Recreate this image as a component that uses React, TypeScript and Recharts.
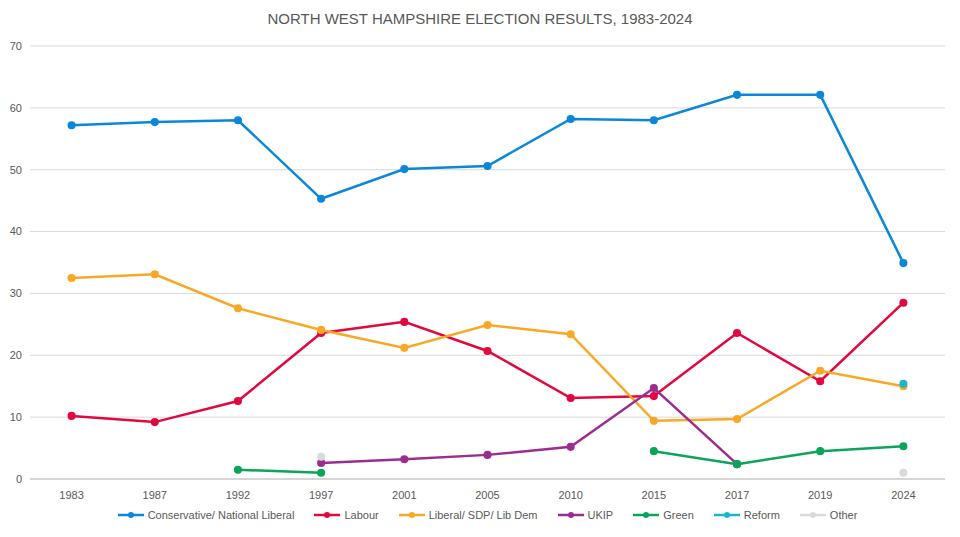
import React from "react";
import { LineChart, Line, XAxis, YAxis, CartesianGrid, Legend } from "recharts";

const years = ["1983","1987","1992","1997","2001","2005","2010","2015","2017","2019","2024"];
const conservative = [57.2,57.7,58.0,45.3,50.1,50.6,58.2,58.0,62.1,62.1,34.9];
const labour = [10.2,9.2,12.6,23.6,25.4,20.7,13.1,13.4,23.6,15.8,28.5];
const libdem = [32.5,33.1,27.6,24.1,21.2,24.9,23.4,9.4,9.7,17.5,15.0];
const ukip = [null,null,null,2.6,3.2,3.9,5.2,14.7,2.4,null,null];
const green = [null,null,1.5,1.0,null,null,null,4.5,2.4,4.5,5.3];
const reform = [null,null,null,null,null,null,null,null,null,null,15.4];
const other = [null,null,null,3.6,null,null,null,null,null,null,1.0];
const yTicks = [0,10,20,30,40,50,60,70];

const series = [
  { key: "con", name: "Conservative/ National Liberal", color: "#0A87D8", values: conservative },
  { key: "lab", name: "Labour", color: "#E0093F", values: labour },
  { key: "ld", name: "Liberal/ SDP/ Lib  Dem", color: "#F9A825", values: libdem },
  { key: "ukip", name: "UKIP", color: "#9B2D91", values: ukip },
  { key: "grn", name: "Green", color: "#0AA55A", values: green },
  { key: "ref", name: "Reform", color: "#1DB5C9", values: reform },
  { key: "oth", name: "Other", color: "#DADADA", values: other },
];

const data = years.map((y, i) => {
  const row: any = { year: y };
  series.forEach(s => { row[s.key] = s.values[i]; });
  return row;
});

const LegendContent = () => (
  <div style={{ display: "flex", justifyContent: "center", gap: 20, fontSize: 11, color: "#595959", fontFamily: "Liberation Sans, Arial, sans-serif", marginLeft: 30 }}>
    {series.map(s => (
      <div key={s.key} style={{ display: "flex", alignItems: "center", gap: 4 }}>
        <svg width={26} height={8}>
          <line x1={0} y1={4} x2={26} y2={4} stroke={s.color} strokeWidth={2.5} />
          <circle cx={13} cy={4} r={3} fill={s.color} />
        </svg>
        <span>{s.name}</span>
      </div>
    ))}
  </div>
);

export default function App() {
  return (
    <div style={{ position: "absolute", left: 0, top: 0, width: 960, height: 537, background: "#fff", fontFamily: "Liberation Sans, Arial, sans-serif" }}>
      <div style={{ position: "absolute", top: 10, width: 960, textAlign: "center", fontSize: 15, color: "#595959" }}>
        NORTH WEST HAMPSHIRE ELECTION RESULTS, 1983-2024
      </div>
      <LineChart width={960} height={537} data={data} margin={{ top: 46, right: 15, left: 0, bottom: 8 }}>
        <CartesianGrid vertical={false} stroke="#D9D9D9" />
        <XAxis dataKey="year" scale="band" tickLine={false} axisLine={{ stroke: "#BFBFBF" }} tick={{ fontSize: 11, fill: "#595959" }} tickMargin={6} height={30} />
        <YAxis domain={[0, 70]} ticks={yTicks} width={30} axisLine={false} tickLine={false} tick={{ fontSize: 11, fill: "#595959" }} />
        <Legend verticalAlign="bottom" height={20} content={<LegendContent />} />
        {series.map(s => (
          <Line key={s.key} dataKey={s.key} name={s.name} stroke={s.color} strokeWidth={2.5}
            dot={{ r: 2.8, fill: s.color, stroke: s.color }} isAnimationActive={false} connectNulls={false} />
        ))}
      </LineChart>
    </div>
  );
}
